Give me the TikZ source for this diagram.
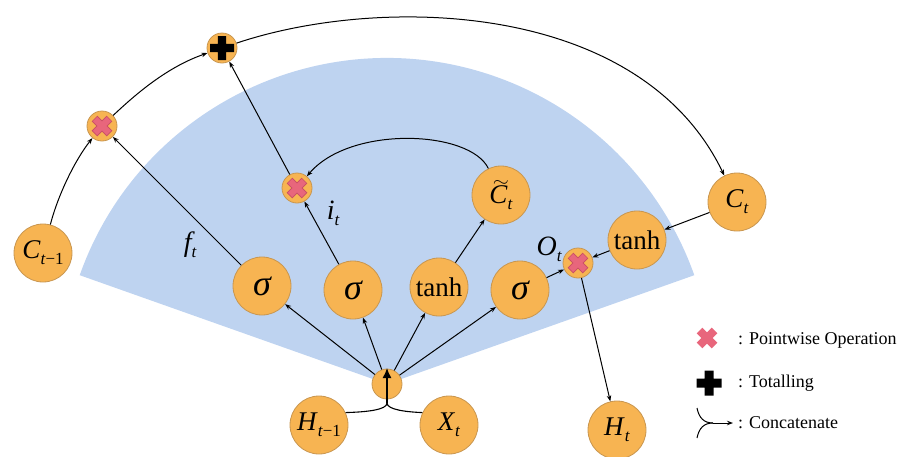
\documentclass[tikz,border=0pt]{standalone}
\usepackage{fontspec}
\setmainfont{Liberation Serif}
\newfontfamily\tms{Liberation Serif}
\usetikzlibrary{arrows.meta}
\definecolor{orfill}{RGB}{247,180,82}
\definecolor{ordraw}{RGB}{200,150,80}
\definecolor{fanblue}{RGB}{190,211,240}
\definecolor{xpink}{RGB}{232,102,124}
\definecolor{xdark}{RGB}{200,80,100}
\newcommand\vsub[1]{\raisebox{-0.22em}{\fontsize{17}{17}\selectfont #1}}
\newcommand\sigm{{\fontsize{36}{36}\selectfont\itshape σ}}
\newcommand\tildeC{\makebox[0pt][l]{\hspace{3.5pt}\raisebox{16.5pt}{\resizebox{16pt}{6pt}{$\sim$}}}\textit{C}}
\tikzset{
  big/.style={circle, fill=orfill, draw=ordraw, line width=0.8pt, minimum size=58pt, inner sep=0pt, font=\tms\fontsize{27}{30}\selectfont},
  small/.style={circle, fill=orfill, draw=ordraw, line width=0.8pt, minimum size=30pt, inner sep=0pt},
  mulsym/.style={path picture={
    \draw[xdark, line width=8pt] (path picture bounding box.center) +(-7.5pt,-7.5pt) -- +(7.5pt,7.5pt) +(-7.5pt,7.5pt) -- +(7.5pt,-7.5pt);
    \draw[xpink, line width=6.2pt] (path picture bounding box.center) +(-6.9pt,-6.9pt) -- +(6.9pt,6.9pt) +(-6.9pt,6.9pt) -- +(6.9pt,-6.9pt);
  }},
  plussym/.style={path picture={
    \fill[black] (path picture bounding box.center) +(-12pt,-4.2pt) rectangle +(12pt,4.2pt) +(-4.2pt,-12pt) rectangle +(4.2pt,12pt);
  }},
  legx/.style={minimum size=24pt, inner sep=0pt, path picture={
    \draw[xpink, line width=8pt] (path picture bounding box.center) +(-7.5pt,-7.5pt) -- +(7.5pt,7.5pt) +(-7.5pt,7.5pt) -- +(7.5pt,-7.5pt);
  }},
  legplus/.style={minimum size=26pt, inner sep=0pt, path picture={
    \fill[black] (path picture bounding box.center) +(-12.5pt,-4.5pt) rectangle +(12.5pt,4.5pt) +(-4.5pt,-12.5pt) rectangle +(4.5pt,12.5pt);
  }},
  arr/.style={-{Stealth[length=6pt,width=4.5pt]}, line width=1pt},
  lbl/.style={font=\tms\fontsize{28}{30}\selectfont\itshape, inner sep=0pt},
  legtxt/.style={font=\tms\fontsize{18}{20}\selectfont, anchor=west, inner sep=0pt},
}
\begin{document}
\begin{tikzpicture}[x=1pt, y=-1pt]
\useasboundingbox (0,0) rectangle (905,456);
\coordinate (fc) at (387,384);
\fill[fanblue] (fc) -- ++(-160.5:326) arc[start angle=-160.5, end angle=-19.5, radius=326] -- cycle;

% nodes
\node[small] (cc) at (387,384) {};
\node[big] (Cm1) at (43,253) {\textit{C}\vsub{\textit{t}−1}};
\node[small, plussym] (pl) at (222,48) {};
\node[small, mulsym] (fm) at (102,126) {};
\node[small, mulsym] (im) at (297,188) {};
\node[small, mulsym] (om) at (578,263) {};
\node[big] (sf) at (262,286) {\sigm};
\node[big] (si) at (353,290) {\sigm};
\node[big] (th) at (439,287) {tanh};
\node[big] (so) at (520,290) {\sigm};
\node[big] (Ct) at (737,202) {\textit{C}\vsub{\textit{t}}};
\node[big] (Ctl) at (501,195) {\tildeC\vsub{\textit{t}}};
\node[big] (thr) at (637,240) {tanh};
\node[big] (Hm1) at (319,425) {\textit{H}\vsub{\textit{t}−1}};
\node[big] (Xt) at (449,425) {\textit{X}\vsub{\textit{t}}};
\node[big] (Ht) at (617,430) {\textit{H}\vsub{\textit{t}}};

% labels
\node[lbl] (lf) at (190,245) {f\vsub{t}};
\node[lbl] (li) at (333,213) {i\vsub{t}};
\node[lbl] (lo) at (549,249) {O\vsub{t}};

% connectors
\draw[arr] (Cm1) .. controls (58,195) and (75,160) .. (fm);
\draw[arr] (fm) .. controls (140,90) and (170,66) .. (pl);
\draw[arr] (pl) .. controls (380,-5) and (640,0) .. (Ct);
\draw[arr] (sf) -- (fm);
\draw[arr] (si) -- (im);
\draw[arr] (im) -- (pl);
\draw[arr] (th) -- (Ctl);
\draw[arr] (Ctl) .. controls (470,130) and (350,125) .. (im);
\draw[arr] (Ct) -- (thr);
\draw[arr] (thr) -- (om);
\draw[arr] (so) -- (om);
\draw[arr] (om) -- (Ht);
\draw[arr] (cc) -- (sf);
\draw[arr] (cc) -- (si);
\draw[arr] (cc) -- (th);
\draw[arr] (cc) -- (so);

% concatenation
\coordinate (mj) at (387,403);
\coordinate (ctip) at (387,368);
\draw[line width=1.1pt] (Hm1.25) .. controls (366,412) and (387,410) .. (mj);
\draw[line width=1.1pt] (Xt.155) .. controls (408,412) and (387,410) .. (mj);
\draw[line width=1.4pt, -{Latex[length=10pt,width=9pt]}] (mj) -- (ctip);

% legend
\node[legx] (lgx) at (707,338) {};
\node[legplus] (lgp) at (709,383) {};
\node[legtxt] (t1) at (738,340) {: Pointwise Operation};
\node[legtxt] (t2) at (738,383) {: Totalling};
\node[legtxt] (t3) at (738,423) {: Concatenate};
\coordinate (la) at (697,408);
\coordinate (lb) at (697,438);
\coordinate (lj) at (713,423);
\coordinate (le) at (733,423);
\draw[line width=1pt] (la) .. controls (699,418) and (704,423) .. (lj);
\draw[line width=1pt] (lb) .. controls (699,428) and (704,423) .. (lj);
\draw[arr] (lj) -- (le);
\end{tikzpicture}
\end{document}
